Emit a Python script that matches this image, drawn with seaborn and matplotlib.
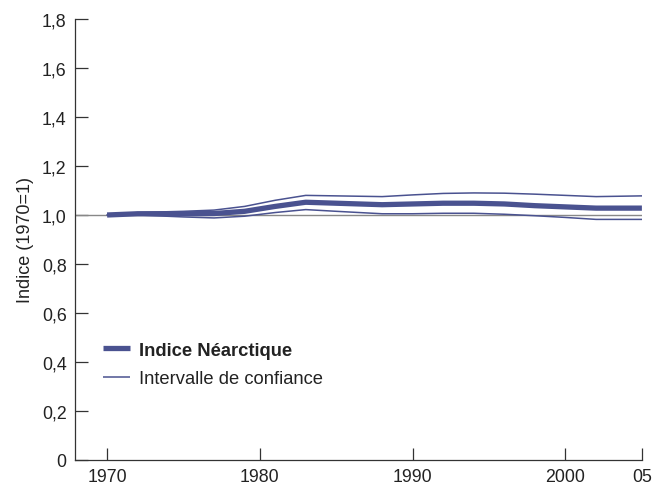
import pandas as pd
import matplotlib
matplotlib.use("Agg")
import matplotlib.pyplot as plt
import seaborn as sns

# Valeurs
years = [1970, 1972, 1975, 1977, 1979, 1981, 1983, 1985, 1988, 1990, 1992, 1994, 1996, 1998, 2000, 2002, 2005]
index_values = [1.000, 1.005, 1.005, 1.006, 1.015, 1.035, 1.052, 1.048, 1.042, 1.045, 1.048, 1.048, 1.045, 1.038, 1.033, 1.028, 1.028]
upper_ci = [1.000, 1.010, 1.015, 1.020, 1.035, 1.060, 1.080, 1.078, 1.075, 1.082, 1.088, 1.090, 1.089, 1.085, 1.080, 1.075, 1.078]
lower_ci = [1.000, 1.000, 0.992, 0.988, 0.995, 1.010, 1.022, 1.015, 1.005, 1.005, 1.007, 1.007, 1.003, 0.997, 0.990, 0.982, 0.982]

x_ticks = [1970, 1980, 1990, 2000, 2005]
x_tick_labels = ["1970", "1980", "1990", "2000", "05"]
y_ticks = [0, 0.2, 0.4, 0.6, 0.8, 1.0, 1.2, 1.4, 1.6, 1.8]
y_tick_labels = ["0", "0,2", "0,4", "0,6", "0,8", "1,0", "1,2", "1,4", "1,6", "1,8"]

df = pd.DataFrame({"Année": years, "Indice": index_values, "Haut": upper_ci, "Bas": lower_ci})

sns.set_style("ticks")
plt.rcParams["font.family"] = ["Liberation Sans", "DejaVu Sans"]

color = "#4a5290"
fig = plt.figure(figsize=(6.55, 4.85), dpi=100)
ax = fig.add_axes([0.1145, 0.0495, 0.8655, 0.9093])

# Ligne de référence à 1
ax.axhline(1.0, color="#888888", linewidth=1.0, zorder=1)

sns.lineplot(data=df, x="Année", y="Haut", ax=ax, color=color, linewidth=1.1, label="Intervalle de confiance", zorder=2)
sns.lineplot(data=df, x="Année", y="Bas", ax=ax, color=color, linewidth=1.1, label="_nolegend_", zorder=2)
sns.lineplot(data=df, x="Année", y="Indice", ax=ax, color=color, linewidth=3.8, label="Indice Néarctique",
             zorder=3, solid_capstyle="butt")

ax.set_xlim(1967.9, 2005)
ax.set_ylim(0, 1.8)
ax.set_xticks(x_ticks)
ax.set_xticklabels(x_tick_labels)
ax.set_yticks(y_ticks)
ax.set_yticklabels(y_tick_labels)
ax.tick_params(direction="in", length=9, width=0.9, color="#333333", labelsize=12.8, labelcolor="#222222", pad=6)
ax.set_xlabel("")
ax.set_ylabel("Indice (1970=1)", fontsize=13, color="#222222", labelpad=6)

for side in ["top", "right"]:
    ax.spines[side].set_visible(False)
for side in ["left", "bottom"]:
    ax.spines[side].set_linewidth(0.9)
    ax.spines[side].set_color("#333333")

# Légende : trait épais d'abord
handles, labels = ax.get_legend_handles_labels()
order = [labels.index("Indice Néarctique"), labels.index("Intervalle de confiance")]
leg = ax.legend([handles[i] for i in order], [labels[i] for i in order],
                loc="lower left", bbox_to_anchor=(0.02, 0.128), frameon=False,
                fontsize=13.2, handlelength=1.5, handletextpad=0.45, labelspacing=0.62)
leg.get_texts()[0].set_fontweight("bold")
for t in leg.get_texts():
    t.set_color("#222222")
for line in leg.get_lines():
    line.set_solid_capstyle("butt")

plt.savefig("out.png", dpi=100)
